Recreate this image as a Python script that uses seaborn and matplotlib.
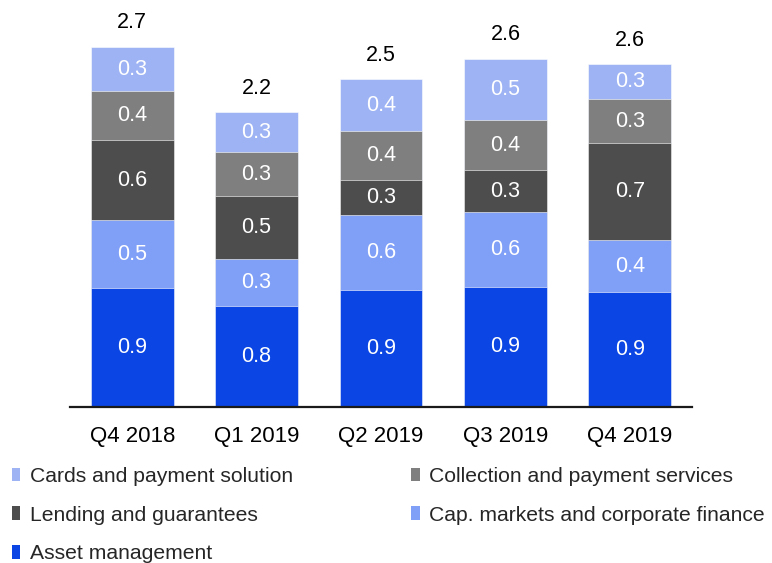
import matplotlib
matplotlib.use("Agg")
import matplotlib.pyplot as plt
import seaborn as sns
import pandas as pd
import numpy as np
from matplotlib.patches import Patch

categories = ["Q4 2018", "Q1 2019", "Q2 2019", "Q3 2019", "Q4 2019"]
asset_management = [0.89, 0.76, 0.88, 0.90, 0.86]
cap_markets = [0.51, 0.35, 0.56, 0.56, 0.39]
lending = [0.60, 0.47, 0.26, 0.32, 0.73]
collection = [0.37, 0.33, 0.37, 0.37, 0.33]
cards = [0.33, 0.30, 0.39, 0.46, 0.26]

series_names = ["Asset management", "Cap. markets and corporate finance",
                "Lending and guarantees", "Collection and payment services",
                "Cards and payment solution"]
series_values = [asset_management, cap_markets, lending, collection, cards]
colors = ["#0b46e4", "#809ff7", "#4d4d4d", "#7f7f7f", "#9db3f4"]

sns.set_theme(style="white")
plt.rcParams["font.family"] = ["Liberation Sans", "DejaVu Sans"]

fig = plt.figure(figsize=(7.72, 5.63), dpi=100)
ax = fig.add_axes([70 / 772, 1 - 407 / 563, 622 / 772, 400 / 563])

vals = np.array(series_values)
cum = np.cumsum(vals, axis=0)

# draw cumulative bars from top layer to bottom layer (stacked bar trick)
for i in range(len(series_names) - 1, -1, -1):
    df = pd.DataFrame({"cat": categories, "val": cum[i]})
    sns.barplot(data=df, x="cat", y="val", color=colors[i], width=0.667,
                saturation=1, ax=ax, edgecolor="white", linewidth=0.4)

for j, c in enumerate(categories):
    for i in range(len(series_names)):
        bottom = cum[i][j] - vals[i][j]
        ax.text(j, bottom + vals[i][j] / 2, f"{vals[i][j]:.1f}", ha="center",
                va="center", color="white", fontsize=15.5)
    ax.text(j, cum[-1][j] + 0.18, f"{cum[-1][j]:.1f}", ha="center",
            va="center", color="black", fontsize=15.5)

ax.set_xlim(-0.5, 4.5)
ax.set_ylim(0, 3.0)
ax.set_xlabel("")
ax.set_ylabel("")
ax.set_yticks([])
for s in ["top", "right", "left"]:
    ax.spines[s].set_visible(False)
ax.spines["bottom"].set_color("#1a1a1a")
ax.spines["bottom"].set_linewidth(1.6)
ax.tick_params(axis="x", length=0, pad=14, labelsize=16, colors="black")

order = [4, 2, 0, 3, 1]
handles = [Patch(facecolor=colors[i], edgecolor="none") for i in order]
labels = [series_names[i] for i in order]
fig.legend(handles, labels, ncol=2, loc="upper left",
           bbox_to_anchor=(12 / 772, 1 - 467 / 563), frameon=False,
           fontsize=15.2, handlelength=0.4, handleheight=0.6,
           handletextpad=0.45, columnspacing=5.6, labelspacing=0.93,
           borderpad=0, borderaxespad=0)

fig.savefig("out.png", dpi=100, facecolor="white")
